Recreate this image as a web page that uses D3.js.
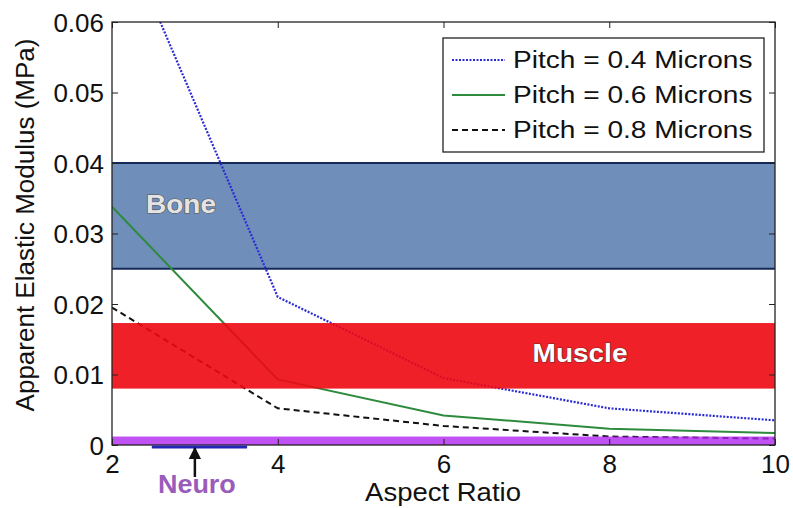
<!DOCTYPE html>
<html>
<head>
<meta charset="utf-8">
<script src="https://cdn.jsdelivr.net/npm/d3@7"></script>
<style>
  body { margin: 0; background: #fff; }
  svg text { font-family: "Liberation Sans", Arial, sans-serif; }
</style>
</head>
<body>
<div class="chart"></div>
<script>
// data
var aspect = [2, 4, 6, 8, 10];
var pitch04 = [0.076, 0.021, 0.0095, 0.0052, 0.0035];
var pitch06 = [0.0338, 0.0093, 0.0042, 0.0023, 0.0017];
var pitch08 = [0.0195, 0.0052, 0.0027, 0.0012, 0.0009];
var seriesNames = ["Pitch = 0.4 Microns", "Pitch = 0.6 Microns", "Pitch = 0.8 Microns"];
var xTicks = [2, 4, 6, 8, 10];
var yTicks = [0, 0.01, 0.02, 0.03, 0.04, 0.05, 0.06];
var bandNames = ["Bone", "Muscle", "Neuro"];
var bandLow = [0.025, 0.008, 0];
var bandHigh = [0.04, 0.0173, 0.0012];
var neuroRange = [2.48, 3.63];
var neuroMark = 3;

var width = 793, height = 508;
// plot box edges (window.top is taken, so prefix them)
var pLeft = 112, pRight = 775, pTop = 22, pBottom = 445;

var x = d3.scaleLinear().domain([2, 10]).range([pLeft, pRight]);
var y = d3.scaleLinear().domain([0, 0.06]).range([pBottom, pTop]);

var svg = d3.select(".chart").append("svg")
    .attr("width", width)
    .attr("height", height);

svg.append("clipPath").attr("id", "plotclip")
  .append("rect")
    .attr("x", pLeft).attr("y", pTop)
    .attr("width", pRight - pLeft).attr("height", pBottom - pTop);

var plot = svg.append("g").attr("clip-path", "url(#plotclip)");

// bone band sits under the curves
plot.append("rect")
    .attr("x", x(2)).attr("width", x(10) - x(2))
    .attr("y", y(bandHigh[0])).attr("height", y(bandLow[0]) - y(bandHigh[0]))
    .style("fill", "#6f8eba");
[bandHigh[0], bandLow[0]].forEach(function(v) {
  plot.append("line")
      .attr("x1", x(2)).attr("x2", x(10))
      .attr("y1", y(v)).attr("y2", y(v))
      .style("stroke", "#16285a").style("stroke-width", 2);
});

var line = d3.line()
    .x(function(d, i) { return x(aspect[i]); })
    .y(function(d) { return y(d); });

var styles = [
  { color: "#2b2bd6", dash: "2,1.5", w: 2.2 },
  { color: "#2e8b3e", dash: null, w: 2 },
  { color: "#111", dash: "6,4", w: 2 }
];
[pitch04, pitch06, pitch08].forEach(function(s, i) {
  plot.append("path")
      .attr("d", line(s))
      .style("fill", "none")
      .style("stroke", styles[i].color)
      .style("stroke-width", styles[i].w)
      .style("stroke-dasharray", styles[i].dash);
});

// muscle and neuro bands laid over the curves, a bit see-through
plot.append("rect")
    .attr("x", x(2)).attr("width", x(10) - x(2))
    .attr("y", y(bandHigh[1])).attr("height", y(bandLow[1]) - y(bandHigh[1]))
    .style("fill", "#ee0812").style("opacity", 0.9);
plot.append("rect")
    .attr("x", x(2)).attr("width", x(10) - x(2))
    .attr("y", y(bandHigh[2])).attr("height", y(bandLow[2]) - y(bandHigh[2]))
    .style("fill", "#b026f0").style("opacity", 0.8);

// band labels
function outlined(txt, cx, cy, fill, edge, size) {
  svg.append("text")
      .attr("transform", "translate(" + cx + "," + cy + ") scale(1.12,1)")
      .attr("text-anchor", "middle")
      .attr("dy", "0.35em")
      .style("font-size", size + "px")
      .style("font-weight", "bold")
      .style("fill", fill)
      .style("stroke", edge)
      .style("stroke-width", 1.2)
      .style("paint-order", "stroke")
      .text(txt);
}
outlined(bandNames[0], 181, 204, "#e4e4e4", "#555", 25);
outlined(bandNames[1], 580, 353, "#fff", "#7a2020", 25);

// frame
svg.append("rect")
    .attr("x", pLeft).attr("y", pTop)
    .attr("width", pRight - pLeft).attr("height", pBottom - pTop)
    .style("fill", "none").style("stroke", "#222").style("stroke-width", 1.3);

// axes, MATLAB style inward ticks
var fmtY = function(d) { return d === 0 ? "0" : d3.format(".2f")(d); };
var xAxis = svg.append("g").attr("transform", "translate(0," + pBottom + ")")
    .call(d3.axisBottom(x).tickValues(xTicks).tickSize(-6).tickPadding(10).tickFormat(d3.format("d")));
var xAxisTop = svg.append("g").attr("transform", "translate(0," + pTop + ")")
    .call(d3.axisTop(x).tickValues(xTicks).tickSize(-6).tickFormat(""));
var yAxis = svg.append("g").attr("transform", "translate(" + pLeft + ",0)")
    .call(d3.axisLeft(y).tickValues(yTicks).tickSize(-6).tickPadding(8).tickFormat(fmtY));
var yAxisRight = svg.append("g").attr("transform", "translate(" + pRight + ",0)")
    .call(d3.axisRight(y).tickValues(yTicks).tickSize(-6).tickFormat(""));
[xAxis, xAxisTop, yAxis, yAxisRight].forEach(function(a) {
  a.select(".domain").remove();
  a.selectAll(".tick line").style("stroke", "#222");
});
xAxis.selectAll("text")
    .style("font-size", "26px").style("fill", "#111")
    .attr("dy", "0.71em");
yAxis.selectAll("text")
    .style("font-size", "26px").style("fill", "#111")
    .attr("dy", "0.35em");

// axis titles
svg.append("text")
    .attr("transform", "translate(443,501) scale(1.1,1)")
    .attr("text-anchor", "middle")
    .style("font-size", "25px").style("fill", "#111")
    .text("Aspect Ratio");
svg.append("text")
    .attr("transform", "translate(34,225) rotate(-90)")
    .attr("text-anchor", "middle")
    .style("font-size", "26px").style("fill", "#111")
    .text("Apparent Elastic Modulus (MPa)");

// neuro marker below the axis
svg.append("line")
    .attr("x1", x(neuroRange[0])).attr("x2", x(neuroRange[1]))
    .attr("y1", pBottom + 2).attr("y2", pBottom + 2)
    .style("stroke", "#2424b8").style("stroke-width", 3);
svg.append("defs").append("marker")
    .attr("id", "arrow").attr("viewBox", "0 0 10 10")
    .attr("refX", 9).attr("refY", 5)
    .attr("markerWidth", 5).attr("markerHeight", 6).attr("orient", "auto")
  .append("path").attr("d", "M0,0L10,5L0,10Z").style("fill", "#111");
svg.append("line")
    .attr("x1", x(neuroMark)).attr("x2", x(neuroMark))
    .attr("y1", 477).attr("y2", pBottom + 3)
    .style("stroke", "#111").style("stroke-width", 2.5)
    .attr("marker-end", "url(#arrow)");
svg.append("text")
    .attr("transform", "translate(" + (x(neuroMark) + 2) + ",493) scale(1.08,1)")
    .attr("text-anchor", "middle")
    .style("font-size", "25px").style("font-weight", "bold")
    .style("fill", "#9a5cba")
    .text(bandNames[2]);

// legend
var lg = svg.append("g");
lg.append("rect")
    .attr("x", 443).attr("y", 38).attr("width", 321).attr("height", 114)
    .style("fill", "#fff").style("stroke", "#222").style("stroke-width", 1.3);
seriesNames.forEach(function(name, i) {
  var ly = 60 + i * 35;
  lg.append("line")
      .attr("x1", 452).attr("x2", 505).attr("y1", ly).attr("y2", ly)
      .style("stroke", styles[i].color)
      .style("stroke-width", styles[i].w)
      .style("stroke-dasharray", styles[i].dash);
  lg.append("text")
      .attr("transform", "translate(513," + ly + ") scale(1.17,1)")
      .attr("dy", "0.35em")
      .style("font-size", "24px").style("fill", "#111")
      .text(name);
});
</script>
</body>
</html>
